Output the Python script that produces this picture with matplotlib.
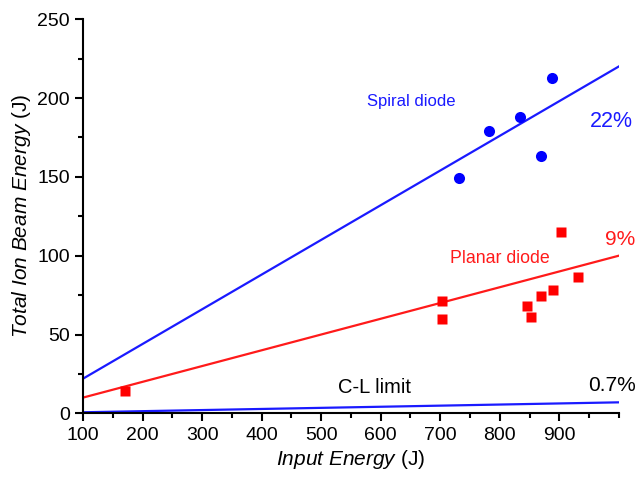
import matplotlib.pyplot as plt
import numpy as np
from matplotlib.ticker import MultipleLocator

plt.rcParams['font.family'] = ['Liberation Sans', 'DejaVu Sans']
plt.rcParams['mathtext.fontset'] = 'custom'
plt.rcParams['mathtext.rm'] = 'Liberation Sans'
plt.rcParams['mathtext.it'] = 'Liberation Sans:italic'

# measured shots
spiral_x = [732, 782, 834, 869, 887]
spiral_y = [149, 179, 188, 163, 213]
planar_x = [170, 703, 703, 845, 852, 869, 890, 903, 931]
planar_y = [14.4, 71.3, 59.6, 68.1, 61.3, 74.4, 78.2, 114.8, 86.3]

# efficiency lines (fraction of input energy)
line_names = ['Spiral diode', 'Planar diode', 'C-L limit']
line_slopes = [0.22, 0.10, 0.007]
line_colors = ['#1a1aff', '#ff1a1a', '#1a1aff']
eff_labels = ['22%', '9%', '0.7%']

fig = plt.figure(figsize=(6.36, 4.79), dpi=100)
ax = fig.add_axes([0.1305, 0.137, 0.8425, 0.823])

xs = np.array([100, 1000])
for k, c in zip(line_slopes, line_colors):
    ax.plot(xs, k * xs, color=c, lw=1.6)

ax.plot(spiral_x, spiral_y, 'o', color='#0000ff', ms=8, mec='none')
ax.plot(planar_x, planar_y, 's', color='#ff0000', ms=6.5, mec='none')

# curve names and efficiencies
ax.text(651, 198, line_names[0], color='#1a1aff', fontsize=12, ha='center', va='center')
ax.text(800, 98.5, line_names[1], color='#ff1a1a', fontsize=12.8, ha='center', va='center')
ax.text(590, 16.5, line_names[2], color='black', fontsize=14.5, ha='center', va='center')
ax.text(988, 185, eff_labels[0], color='#1a1aff', fontsize=15.5, ha='center', va='center', clip_on=False)
ax.text(1002, 110, eff_labels[1], color='#ff1a1a', fontsize=15, ha='center', va='center', clip_on=False)
ax.text(989, 17.5, eff_labels[2], color='black', fontsize=15, ha='center', va='center', clip_on=False)

ax.set_xlim(100, 1000)
ax.set_ylim(0, 250)
ax.xaxis.set_major_locator(MultipleLocator(100))
ax.xaxis.set_minor_locator(MultipleLocator(50))
ax.yaxis.set_major_locator(MultipleLocator(50))
ax.yaxis.set_minor_locator(MultipleLocator(25))
ax.set_xticks(np.arange(100, 1000, 100))

for s in ['top', 'right']:
    ax.spines[s].set_visible(False)
for s in ['left', 'bottom']:
    ax.spines[s].set_linewidth(1.5)
ax.tick_params(which='major', length=6, width=1.5, labelsize=14, colors='black')
ax.tick_params(which='minor', length=3.5, width=1.5)

ax.set_xlabel(r'$\it{Input\ Energy}$ (J)', fontsize=15, labelpad=3)
ax.set_ylabel(r'$\it{Total\ Ion\ Beam\ Energy}$ (J)', fontsize=15, labelpad=3)

fig.savefig('out.png', dpi=100)
